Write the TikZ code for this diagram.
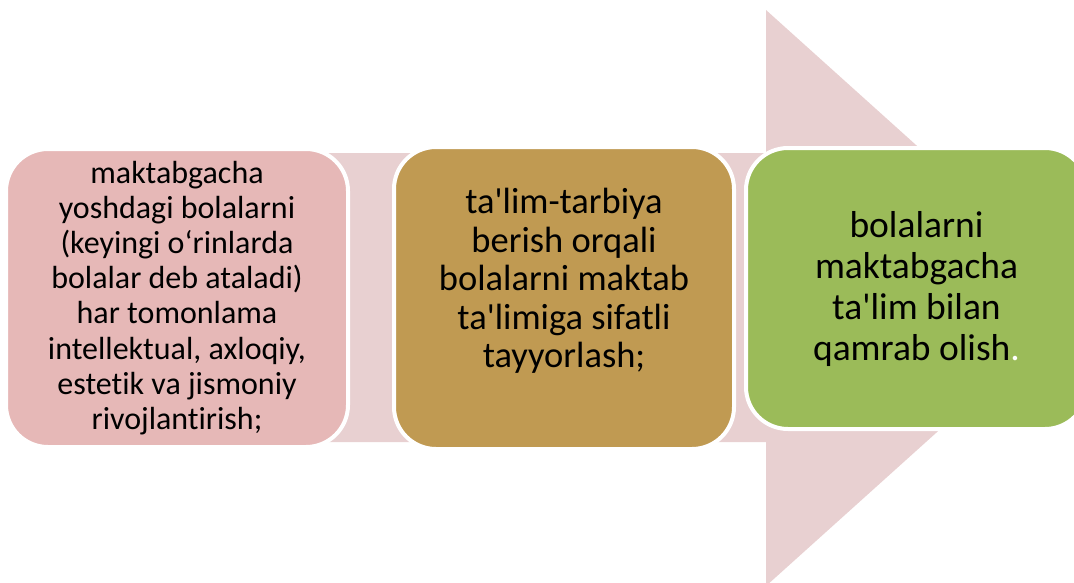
\documentclass[tikz,border=0pt]{standalone}
\usepackage{fontspec}
\setmainfont{Carlito}[Ligatures={TeXOff,NoCommon}]
\definecolor{arrowpink}{HTML}{E8D0D1}
\definecolor{rosebox}{HTML}{E6B8B7}
\definecolor{goldbox}{HTML}{C09A52}
\definecolor{greenbox}{HTML}{9BBB59}
\begin{document}
\begin{tikzpicture}[x=1pt,y=-1pt,
    box/.style={draw=white, line width=4pt, rounded corners=42pt, align=center, inner sep=0pt, text=black}]
  \useasboundingbox (0,0) rectangle (1074,582);
  \clip (0,0) rectangle (1074,582);
  % the wide arrow behind the boxes
  \fill[arrowpink] (180,153) -- (766,153) -- (766,10) -- (1086,298)
    -- (766,586) -- (766,442) -- (180,442) -- cycle;
  \node[box, fill=rosebox, minimum width=342pt, minimum height=298pt,
        font=\fontsize{32}{35.2}\selectfont] (goals) at (177,298)
    {maktabgacha\\ yoshdagi bolalarni\\ (keyingi o‘rinlarda\\ bolalar deb ataladi)\\
     har tomonlama\\ intellektual, axloqiy,\\ estetik va jismoniy\\ rivojlantirish;};
  \node[box, fill=goldbox, minimum width=340pt, minimum height=302pt] (prep) at (564,298) {};
  \node[font=\fontsize{36.5}{38.5}\selectfont, align=center] (preptext) at ([yshift=17pt]prep.center)
    {ta'lim-tarbiya\\ berish orqali\\ bolalarni maktab\\ ta'limiga sifatli\\ tayyorlash;};
  \node[box, fill=greenbox, minimum width=341pt, minimum height=281pt,
        font=\fontsize{37.5}{41}\selectfont] (cover) at (916.5,288.5)
    {bolalarni\\ maktabgacha\\ ta'lim bilan\\ qamrab olish{\color{white}.}};
\end{tikzpicture}
\end{document}
